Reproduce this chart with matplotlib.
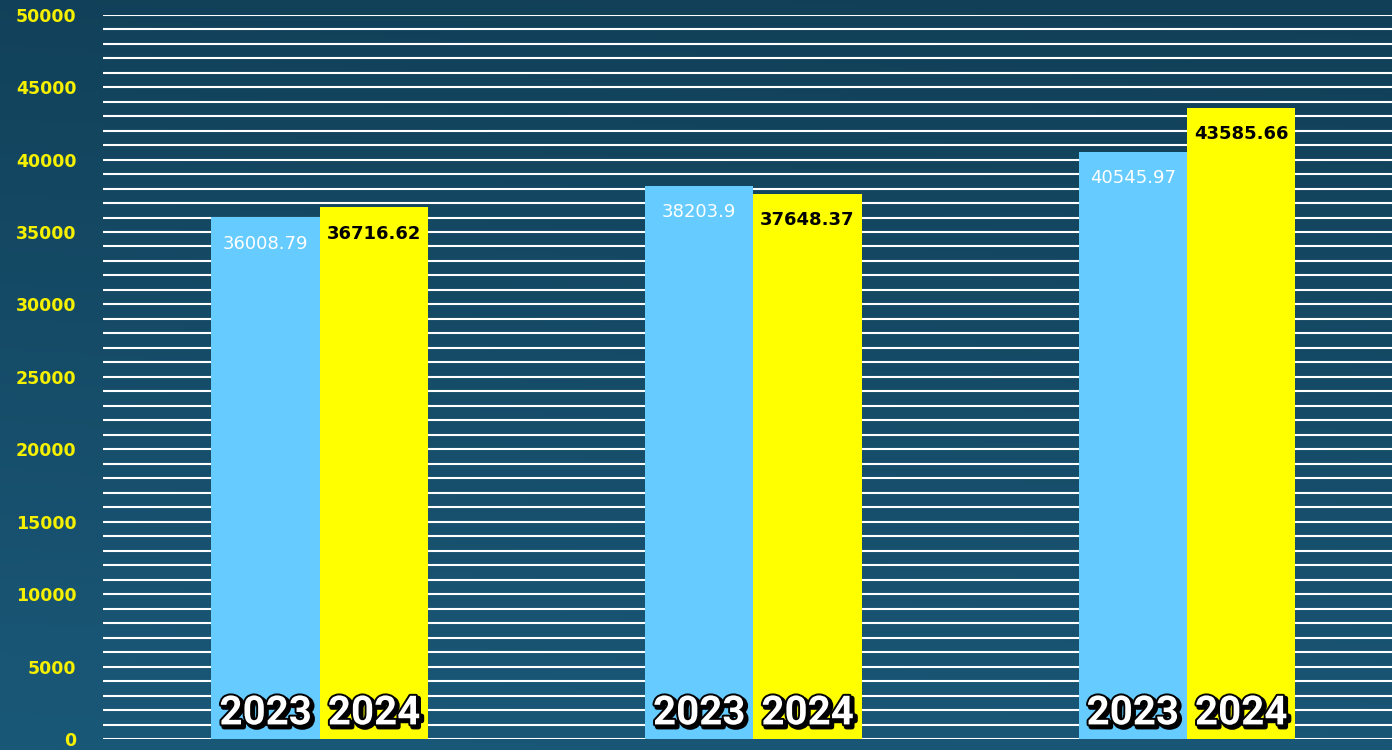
import numpy as np
import matplotlib
matplotlib.use("Agg")
import matplotlib.pyplot as plt
import matplotlib.patheffects as pe
from matplotlib.colors import LinearSegmentedColormap

# ---- data ----
groups = ["A", "B", "C"]
years = ["2023", "2024"]
values_2023 = [36008.79, 38203.9, 40545.97]
values_2024 = [36716.62, 37648.37, 43585.66]
label_2023 = ["36008.79", "38203.9", "40545.97"]
label_2024 = ["36716.62", "37648.37", "43585.66"]
y_ticks = [0, 5000, 10000, 15000, 20000, 25000, 30000, 35000, 40000, 45000, 50000]

W, H = 1392, 750
fig = plt.figure(figsize=(W / 100, H / 100), dpi=100)

# background gradient
bg = fig.add_axes([0, 0, 1, 1], zorder=-10)
yy, xx = np.mgrid[0:1:200j, 0:1:200j]
grad = 0.9 * yy + 0.1 * xx
cmap = LinearSegmentedColormap.from_list("bg", ["#1a5878", "#113f57"])
bg.imshow(grad, cmap=cmap, aspect="auto", extent=[0, 1, 0, 1], origin="lower")
bg.set_axis_off()

left = 103 / W
bottom = (H - 739) / H
top = (H - 14.7) / H
ax = fig.add_axes([left, bottom, 1 - left, top - bottom])
ax.patch.set_alpha(0)

x = np.arange(len(groups))
bw = 0.25
b1 = ax.bar(x - bw / 2, values_2023, width=bw, color="#66ccff", zorder=3)
b2 = ax.bar(x + bw / 2, values_2024, width=bw, color="#ffff00", zorder=3)

ax.set_xlim(-0.5, 2.473)
ax.set_ylim(0, 50000)

ax.set_yticks(y_ticks)
ax.set_yticks(np.arange(0, 50001, 1000), minor=True)
ax.set_yticklabels([str(t) for t in y_ticks], color="#f5f000",
                   fontweight="bold", fontsize=12.5)
ax.tick_params(axis="y", which="both", length=0, pad=19)
ax.set_xticks([])
ax.grid(axis="y", which="both", color="white", linewidth=1.5, zorder=1)
ax.set_axisbelow(True)
for s in ax.spines.values():
    s.set_visible(False)

for rect, lab in zip(b1, label_2023):
    ax.annotate(lab, (rect.get_x() + rect.get_width() / 2, rect.get_height()),
                xytext=(0, -19), textcoords="offset points", ha="center",
                va="center", color="white", fontsize=13, zorder=5)
for rect, lab in zip(b2, label_2024):
    ax.annotate(lab, (rect.get_x() + rect.get_width() / 2, rect.get_height()),
                xytext=(0, -19), textcoords="offset points", ha="center",
                va="center", color="black", fontsize=13, fontweight="semibold",
                zorder=5)

effects = [pe.Stroke(linewidth=3.6, foreground="black", offset=(1.8, -1.8)),
           pe.Stroke(linewidth=2.8, foreground="black"),
           pe.Normal()]
for bars, yr in ((b1, years[0]), (b2, years[1])):
    for rect in bars:
        ax.annotate(yr, (rect.get_x() + rect.get_width() / 2, 0),
                    xytext=(0, 10.5), textcoords="offset points", ha="center",
                    va="baseline", color="white", fontsize=29,
                    fontfamily="Roboto", fontweight="bold", zorder=6,
                    path_effects=effects)

fig.savefig("out.png", dpi=100)
